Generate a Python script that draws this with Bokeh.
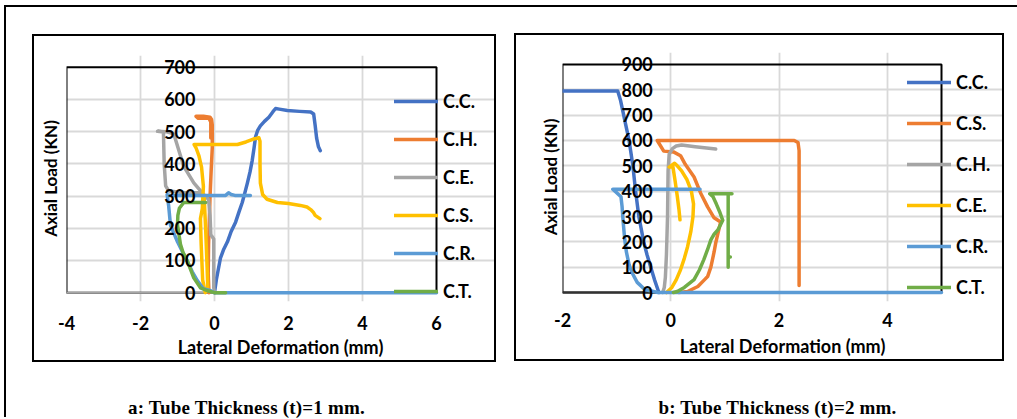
from bokeh.plotting import figure
from bokeh.models import Range1d, FixedTicker, ColumnDataSource, LabelSet, Div, Spacer, BoxAnnotation
from bokeh.layouts import row, column
from bokeh.embed import file_html
from bokeh.resources import INLINE
from bokeh.core.properties import value

FONT = "Lato"
BLUE, ORANGE, GRAY, YELLOW, LBLUE, GREEN = "#4472C4", "#ED7D31", "#A5A5A5", "#FFC000", "#5B9BD5", "#70AD47"

# ---------------- Panel a: Tube thickness 1 mm ----------------
A_XLIM = (-4, 6)
A_YLIM = (0, 700)
A_XTICKS = [-4, -2, 0, 2, 4, 6]
A_YTICKS = [0, 100, 200, 300, 400, 500, 600, 700]

CC_A_X = [0.0, 0.05, 0.16, 0.25, 0.35, 0.45, 0.57, 0.66, 0.75, 0.82, 0.89, 0.96, 1.02, 1.07, 1.11, 1.17, 1.24, 1.35, 1.47, 1.58, 1.65, 1.75, 1.97, 2.3, 2.6, 2.68, 2.72, 2.76, 2.81, 2.86]
CC_A_Y = [0, 40, 107, 135, 158, 190, 219, 250, 280, 310, 341, 375, 411, 450, 484, 505, 518, 532, 545, 562, 572, 570, 566, 563, 561, 555, 520, 480, 453, 441]

CH_A_X = [-0.15, -0.17, -0.16, -0.12, -0.09, -0.06, -0.06, -0.08, -0.12, -0.3, -0.5, -0.45, -0.15, -0.1, -0.1]
CH_A_Y = [0, 60, 150, 300, 380, 450, 520, 538, 545, 548, 548, 542, 542, 530, 480]

CE_A_X = [0.0, -0.02, -0.02, -0.02, -0.1, -0.12, -0.16, -0.33, -0.56, -0.83, -1.1, -1.32, -1.54, -1.38, -1.36, -1.32, -1.24, -0.8, -0.38]
CE_A_Y = [0, 15, 90, 167, 180, 240, 289, 310, 341, 392, 493, 500, 501, 499, 400, 332, 316, 310, 310]

CS_A_X = [-0.28, -0.24, -0.2, -0.18, -0.25, -0.32, -0.36, -0.38, -0.33, -0.3, -0.35, -0.42, -0.5, -0.55, 0.0, 0.62, 0.85, 1.05, 1.2, 1.23, 1.23, 1.24, 1.3, 1.42, 1.7, 2.0, 2.32, 2.5, 2.6, 2.67, 2.72, 2.85]
CS_A_Y = [300, 200, 80, 10, 0, 40, 150, 230, 260, 330, 390, 425, 450, 460, 460, 460, 468, 477, 481, 470, 400, 340, 305, 290, 280, 277, 271, 266, 258, 250, 240, 230]

CR_A_X = [6.0, 0.0, -0.1, -0.3, -0.46, -0.6, -0.73, -0.87, -1.0, -1.1, -1.19, -1.24, -1.28, -1.2, -0.5, 0.3, 0.38, 0.45, 0.55, 0.97]
CR_A_Y = [0, 0, 6, 12, 37, 65, 97, 128, 158, 185, 210, 271, 304, 302, 302, 302, 310, 305, 302, 302]

CT_A_X = [0.3, 0.0, -0.19, -0.38, -0.56, -0.73, -0.85, -0.92, -1.0, -0.99, -0.95, -0.83, -0.5, -0.24]
CT_A_Y = [0, 0, 6, 15, 46, 97, 125, 150, 210, 240, 262, 280, 280, 280]

A_NAMES = ["C.C.", "C.H.", "C.E.", "C.S.", "C.R.", "C.T."]
A_COLORS = [BLUE, ORANGE, GRAY, YELLOW, LBLUE, GREEN]
A_SERIES = [(CC_A_X, CC_A_Y), (CH_A_X, CH_A_Y), (CE_A_X, CE_A_Y), (CS_A_X, CS_A_Y), (CR_A_X, CR_A_Y), (CT_A_X, CT_A_Y)]

# ---------------- Panel b: Tube thickness 2 mm ----------------
B_XLIM = (-2, 5)
B_YLIM = (0, 900)
B_XTICKS = [-2, 0, 2, 4]
B_YTICKS = [0, 100, 200, 300, 400, 500, 600, 700, 800, 900]

CC_B_X = [-2.0, -0.98, -0.93, -0.87, -0.82, -0.77, -0.7, -0.65, -0.59, -0.5, -0.44, -0.37, -0.3, -0.22]
CC_B_Y = [795, 795, 760, 700, 650, 600, 500, 400, 300, 200, 150, 100, 50, 0]

CS_B_X = [0.15, 0.31, 0.5, 0.62, 0.68, 0.74, 0.77, 0.8, 0.83, 0.92, 0.8, 0.68, 0.55, 0.43, 0.27, 0.18, 0.05, -0.13, -0.25, 0.5, 1.5, 2.28, 2.35, 2.37, 2.37]
CS_B_Y = [0, 4, 24, 50, 63, 100, 130, 160, 196, 278, 295, 338, 393, 456, 505, 540, 555, 558, 600, 600, 600, 600, 592, 560, 28]

CH_B_X = [-0.15, -0.12, -0.1, -0.08, -0.06, -0.05, -0.03, 0.03, 0.1, 0.2, 0.45, 0.83]
CH_B_Y = [0, 20, 60, 150, 300, 480, 545, 568, 578, 582, 575, 566]

CE_B_X = [-0.08, 0.02, 0.1, 0.18, 0.25, 0.31, 0.37, 0.41, 0.42, 0.38, 0.3, 0.2, 0.12, 0.07, -0.03, 0.04, 0.08, 0.12, 0.15, 0.17]
CE_B_Y = [0, 20, 50, 90, 135, 181, 240, 300, 350, 400, 445, 480, 500, 510, 495, 495, 440, 380, 330, 287]

CR_B_X = [5.0, -0.24, -0.48, -0.62, -0.72, -0.77, -0.82, -0.85, -0.88, -0.9, -0.92, -1.07, 0.54]
CR_B_Y = [0, 0, 12, 40, 80, 110, 160, 208, 280, 340, 378, 408, 408]

CT_B_X = [0.05, 0.12, 0.25, 0.43, 0.53, 0.61, 0.68, 0.74, 0.8, 0.87, 0.96, 0.9, 0.84, 0.78, 0.72, 1.13, 1.06, 1.06, 1.1, 1.06, 1.06]
CT_B_Y = [0, 4, 20, 51, 90, 130, 170, 208, 230, 247, 285, 320, 350, 378, 390, 390, 390, 140, 140, 140, 100]

B_NAMES = ["C.C.", "C.S.", "C.H.", "C.E.", "C.R.", "C.T."]
B_COLORS = [BLUE, ORANGE, GRAY, YELLOW, LBLUE, GREEN]
B_SERIES = [(CC_B_X, CC_B_Y), (CS_B_X, CS_B_Y), (CH_B_X, CH_B_Y), (CE_B_X, CE_B_Y), (CR_B_X, CR_B_Y), (CT_B_X, CT_B_Y)]

Y_TITLE = "Axial Load (KN)"
X_TITLE = "Lateral Deformation (mm)"
CAPTION_A = "a: Tube Thickness (t)=1 mm."
CAPTION_B = "b: Tube Thickness (t)=2 mm."


def make_panel(series, names, colors, xlim, ylim, xticks, yticks, w, h, borders, pad,
               legend_loc, legend_spacing, ylab_off, xaxis_color,
               tick_standoff, title_standoff, ytitle_standoff):
    """borders: min borders (l, r, t, b) of the figure.
    pad: extra pixels of frame beyond the plot area (right, top, bottom) so that
    labels and legend near the plot-area edges are not clipped."""
    l, r, t, b = borders
    pr, pt, pb = pad
    fw = w - l - r
    fh = h - t - b
    data_w = fw - pr
    data_h = fh - pt - pb
    ux = (xlim[1] - xlim[0]) / data_w
    uy = (ylim[1] - ylim[0]) / data_h
    p = figure(width=w, height=h,
               x_range=Range1d(xlim[0], xlim[1] + pr * ux),
               y_range=Range1d(ylim[0] - pb * uy, ylim[1] + pt * uy),
               output_backend="svg", toolbar_location=None,
               min_border_left=l, min_border_right=r, min_border_top=t, min_border_bottom=b,
               outline_line_color=None,
               border_fill_color="white", background_fill_color="white")
    # inner gridlines only (the plot-area border is drawn separately)
    p.xgrid.ticker = FixedTicker(ticks=[v for v in xticks if xlim[0] < v < xlim[1]])
    p.ygrid.ticker = FixedTicker(ticks=[v for v in yticks if ylim[0] < v < ylim[1]])
    p.xgrid.bounds = ylim
    p.ygrid.bounds = xlim
    for g in (p.xgrid, p.ygrid):
        g.grid_line_color = "#d9d9d9"
        g.grid_line_width = 1.8

    # plot-area border and the horizontal value axis line
    p.add_layout(BoxAnnotation(left=xlim[0], right=xlim[1], bottom=ylim[0], top=ylim[1],
                               fill_alpha=0, line_color="black", line_alpha=1.0, line_width=2,
                               level="underlay"))
    p.add_layout(BoxAnnotation(left=xlim[0], right=xlim[1], bottom=ylim[0], top=ylim[0],
                               fill_alpha=0, line_color=xaxis_color, line_alpha=1.0, line_width=2,
                               level="underlay"))

    ax = p.xaxis[0]
    ax.ticker = FixedTicker(ticks=xticks)
    ax.major_label_overrides = {v: str(v) for v in xticks}
    ax.axis_line_color = None
    ax.major_tick_line_color = None
    ax.minor_tick_line_color = None
    ax.major_label_standoff = tick_standoff
    ax.major_label_text_font = FONT
    ax.major_label_text_font_style = "bold"
    ax.major_label_text_font_size = "18px"
    ax.major_label_text_color = "black"
    ax.axis_label = X_TITLE
    ax.axis_label_standoff = title_standoff
    ax.axis_label_text_font = FONT
    ax.axis_label_text_font_style = "bold"
    ax.axis_label_text_font_size = "18px"
    ax.axis_label_text_color = "black"

    ay = p.yaxis[0]
    ay.ticker = FixedTicker(ticks=[])
    ay.axis_line_color = None
    ay.major_tick_line_color = None
    ay.minor_tick_line_color = None
    ay.axis_label = Y_TITLE
    ay.axis_label_standoff = ytitle_standoff
    ay.axis_label_text_font = FONT
    ay.axis_label_text_font_style = "bold"
    ay.axis_label_text_font_size = "17px"
    ay.axis_label_text_color = "black"

    for (xs, ys), name, c in zip(series, names, colors):
        p.line(xs, ys, line_color=c, line_width=3.5, line_join="round", line_cap="round",
               legend_label=name)

    src = ColumnDataSource(dict(x=[0] * len(yticks), y=yticks, t=[str(v) for v in yticks]))
    p.add_layout(LabelSet(x="x", y="y", text="t", source=src, x_offset=ylab_off,
                          text_align="right", text_baseline="middle",
                          text_font=value(FONT), text_font_style="bold",
                          text_font_size="18px", text_color="black"))

    lg = p.legend[0]
    lg.location = legend_loc
    lg.border_line_color = None
    lg.background_fill_alpha = 0
    lg.padding = 0
    lg.margin = 0
    lg.spacing = legend_spacing
    lg.glyph_width = 44
    lg.glyph_height = 24
    lg.label_height = 24
    lg.label_standoff = 5
    lg.label_text_font = FONT
    lg.label_text_font_style = "bold"
    lg.label_text_font_size = "18px"
    lg.label_text_color = "black"
    return p


# panel a: inner box x 34..494, y 36..360 ; plot area x 66..436, y 67..297
fig_a = make_panel(A_SERIES, A_NAMES, A_COLORS, A_XLIM, A_YLIM, A_XTICKS, A_YTICKS,
                   460, 324, (32, 0, 19, 54), (58, 12, 9),
                   (328, -2), 14, -19, "#a6a6a6", 8, 3, 6)
# panel b: inner box x 516..1002, y 35..359 ; plot area x 562..941, y 64..293
fig_b = make_panel(B_SERIES, B_NAMES, B_COLORS, B_XLIM, B_YLIM, B_XTICKS, B_YTICKS,
                   486, 324, (46, 0, 17, 57), (61, 12, 9),
                   (345, 2), 17, -18, "#333333", 5, 5, 2)


def bar(w, h):
    return Spacer(width=w, height=h, margin=0, styles={"background-color": "black"})


def gap(w, h):
    return Spacer(width=w, height=h, margin=0)


def boxed(fig, w, h):
    return column(bar(w + 4, 2), row(bar(2, h), fig, bar(2, h), spacing=0), bar(w + 4, 2), spacing=0)


def caption(text, w, h, pad_top):
    html = ('<div style="width:%dpx;text-align:center;font-family:\'Liberation Serif\';'
            'font-weight:bold;font-size:19px;line-height:20px;letter-spacing:0.2px;color:black;'
            'padding-top:%dpx;white-space:nowrap;">%s</div>' % (w, pad_top, text))
    return Div(text=html, width=w, height=h, margin=0)


col_a = column(gap(464, 27), boxed(fig_a, 460, 324),
               row(gap(32, 55), caption(CAPTION_A, 365, 55, 36), spacing=0), spacing=0)
col_b = column(gap(490, 26), boxed(fig_b, 486, 324),
               row(gap(63, 56), caption(CAPTION_B, 401, 56, 37), spacing=0), spacing=0)

inner = column(bar(1013, 2),
               row(bar(2, 410), gap(26, 410), col_a, gap(18, 410), col_b, spacing=0),
               spacing=0)
page = column(gap(1013, 5), row(gap(4, 412), inner, spacing=0), spacing=0)

open("out.html", "w").write(file_html(page, INLINE))
